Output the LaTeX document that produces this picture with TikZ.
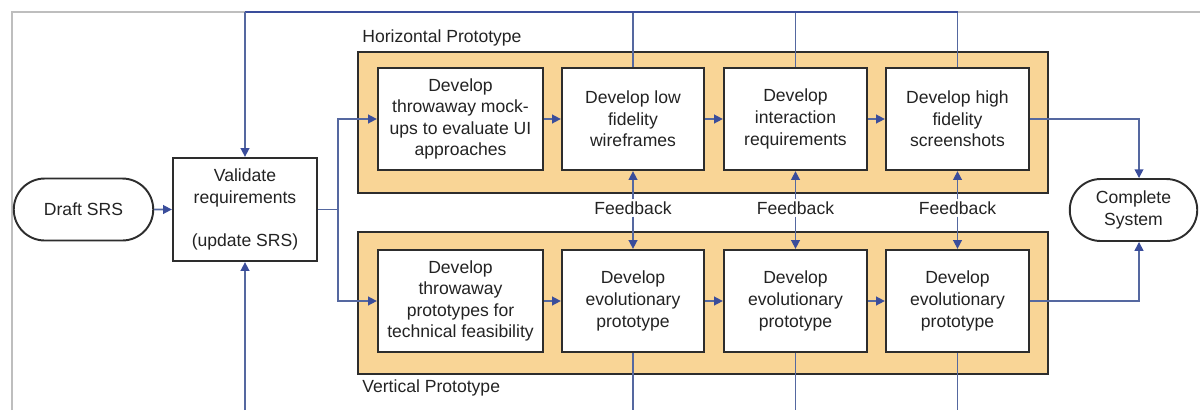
\documentclass[tikz,border=0pt]{standalone}
\usepackage{fontspec}
\setmainfont{Liberation Sans}
\usetikzlibrary{arrows.meta,shapes.misc}
\definecolor{cfill}{RGB}{249,213,150}
\definecolor{cline}{RGB}{85,104,160}
\definecolor{ctip}{RGB}{58,77,155}
\definecolor{cborder}{RGB}{45,45,45}
\definecolor{ctext}{RGB}{35,35,35}
\definecolor{cframe}{RGB}{190,190,190}
\begin{document}
\begin{tikzpicture}[x=0.02cm,y=-0.02cm,
  font=\fontsize{10}{12.3}\selectfont,
  every node/.style={text=ctext},
  box/.style={draw=cborder,line width=1.3pt,fill=white,rectangle,align=center,inner sep=1pt,minimum height=102*0.02cm},
  term/.style={draw=cborder,line width=1.1pt,fill=white,rounded rectangle,align=center,inner sep=1pt},
  group/.style={draw=cborder,line width=1.3pt,fill=cfill},
  conn/.style={draw=cline,line width=0.9pt},
  arr/.style={conn,-{Triangle[length=5pt,width=5pt,color=ctip]}},
  grplabel/.style={anchor=west,inner sep=0pt},
  fb/.style={inner sep=1pt}]
\useasboundingbox (0,0) rectangle (1200,410);
% outer frame
\draw[cframe,line width=0.8pt] (12,410) -- (12,12) -- (1200,12);
% group containers
\draw[group] (358,52) rectangle (1048,193);
\draw[group] (358,232) rectangle (1048,374);
\node[grplabel] (hlab) at (362,38) {Horizontal Prototype};
\node[grplabel] (vlab) at (362,388) {Vertical Prototype};
% terminals
\node[term,minimum width=143*0.02cm,minimum height=62*0.02cm] (draft) at (83.5,209.5) {Draft SRS};
\node[box,minimum width=144*0.02cm,minimum height=103*0.02cm] (valid) at (245,209.5) {Validate\\requirements\\[12pt](update SRS)};
\node[term,minimum width=131*0.02cm,minimum height=62*0.02cm] (compl) at (1133.5,210) {Complete\\System};
% horizontal row
\node[box,minimum width=165*0.02cm] (h1) at (460.5,119) {Develop\\throwaway mock-\\ups to evaluate UI\\approaches};
\node[box,minimum width=142*0.02cm] (h2) at (633,119) {Develop low\\fidelity\\wireframes};
\node[box,minimum width=143*0.02cm] (h3) at (795.5,119) {Develop\\interaction\\requirements};
\node[box,minimum width=143*0.02cm] (h4) at (957.5,119) {Develop high\\fidelity\\screenshots};
% vertical row
\node[box,minimum width=165*0.02cm] (v1) at (460.5,301) {Develop\\throwaway\\prototypes for\\technical feasibility};
\node[box,minimum width=142*0.02cm] (v2) at (633,301) {Develop\\evolutionary\\prototype};
\node[box,minimum width=143*0.02cm] (v3) at (795.5,301) {Develop\\evolutionary\\prototype};
\node[box,minimum width=143*0.02cm] (v4) at (957.5,301) {Develop\\evolutionary\\prototype};
% feedback labels
\node[fb] (f2) at (633,208) {Feedback};
\node[fb] (f3) at (795.5,208) {Feedback};
\node[fb] (f4) at (957.5,208) {Feedback};
% coordinates
\coordinate (split) at (338,209.5);
\coordinate (topL) at (245,12);
\coordinate (botL) at (245,410);
\coordinate (rcol) at (1139,210);
% connectors
\draw[arr] (draft) -- (valid);
\draw[conn] (valid.east) -- (split);
\draw[arr] (split) |- (h1.west);
\draw[arr] (split) |- (v1.west);
\draw[arr] (h1) -- (h2);
\draw[arr] (h2) -- (h3);
\draw[arr] (h3) -- (h4);
\draw[arr] (v1) -- (v2);
\draw[arr] (v2) -- (v3);
\draw[arr] (v3) -- (v4);
\draw[arr] (h4.east) -| (rcol |- compl.north);
\draw[arr] (v4.east) -| (rcol |- compl.south);
% feedback arrows
\foreach \i in {2,3,4}{
  \draw[arr] (f\i.north) -- (h\i.south);
  \draw[arr] (f\i.south) -- (v\i.north);
  \draw[conn] (h\i.north) -- (h\i.north |- topL);
  \draw[conn] (v\i.south) -- (v\i.south |- botL);
}
% top and bottom return lines
\draw[conn,line width=1.1pt,draw=ctip] (h4.north |- topL) -- (topL);
\draw[arr] (topL) -- (valid.north);
\draw[arr] (botL) -- (valid.south);
\end{tikzpicture}
\end{document}
